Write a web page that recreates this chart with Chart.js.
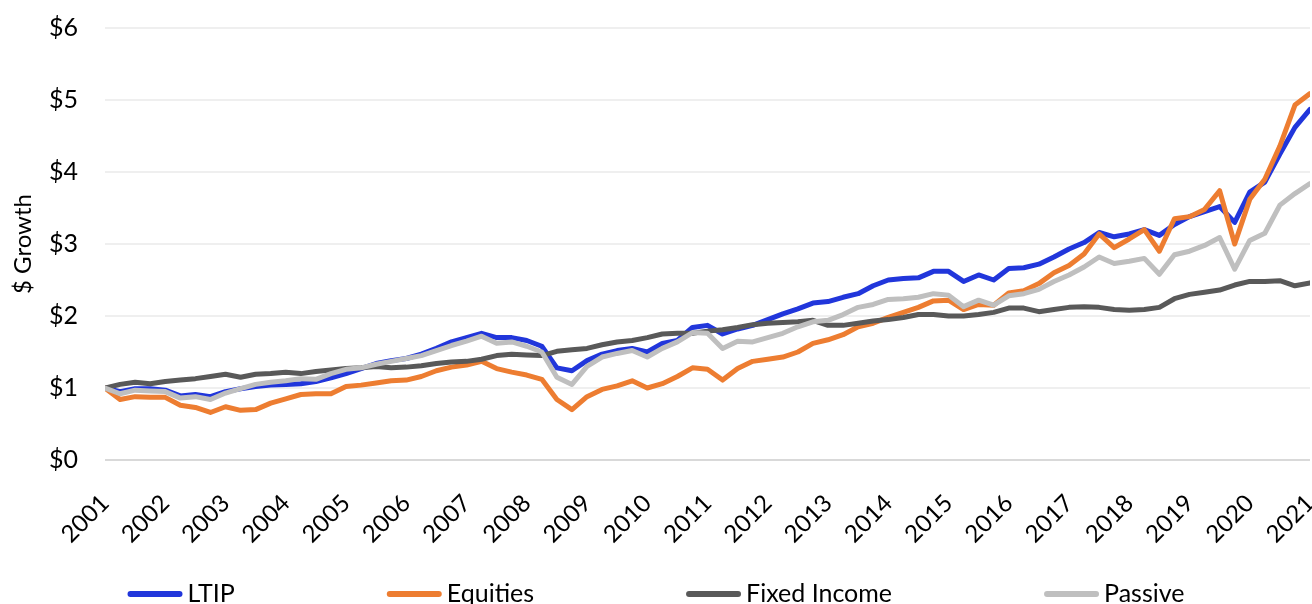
<!DOCTYPE html>
<html>
<head>
<meta charset="utf-8">
<script src="https://cdn.jsdelivr.net/npm/chart.js@4"></script>
<style>
  html, body { margin: 0; padding: 0; background: #fff; overflow: hidden; }
  #wrap { position: relative; width: 1312px; height: 604px; }
</style>
</head>
<body>
<div id="wrap"><canvas id="growthChart"></canvas></div>
<script>
// ===== DATA (quarterly points) =====
const years = [
  2001, 2001.25, 2001.5, 2001.75,
  2002, 2002.25, 2002.5, 2002.75,
  2003, 2003.25, 2003.5, 2003.75,
  2004, 2004.25, 2004.5, 2004.75,
  2005, 2005.25, 2005.5, 2005.75,
  2006, 2006.25, 2006.5, 2006.75,
  2007, 2007.25, 2007.5, 2007.75,
  2008, 2008.25, 2008.5, 2008.75,
  2009, 2009.25, 2009.5, 2009.75,
  2010, 2010.25, 2010.5, 2010.75,
  2011, 2011.25, 2011.5, 2011.75,
  2012, 2012.25, 2012.5, 2012.75,
  2013, 2013.25, 2013.5, 2013.75,
  2014, 2014.25, 2014.5, 2014.75,
  2015, 2015.25, 2015.5, 2015.75,
  2016, 2016.25, 2016.5, 2016.75,
  2017, 2017.25, 2017.5, 2017.75,
  2018, 2018.25, 2018.5, 2018.75,
  2019, 2019.25, 2019.5, 2019.75,
  2020, 2020.25, 2020.5, 2020.75,
  2021
];

const ltip = [
  1.00, 0.95, 0.99, 0.99,
  0.97, 0.89, 0.91, 0.88,
  0.95, 0.99, 1.02, 1.04,
  1.05, 1.06, 1.09, 1.14,
  1.20, 1.27, 1.34, 1.38,
  1.41, 1.47, 1.55, 1.64,
  1.70, 1.76, 1.70, 1.70,
  1.66, 1.58, 1.28, 1.24,
  1.38, 1.47, 1.52, 1.55,
  1.50, 1.62, 1.66, 1.84,
  1.87, 1.75, 1.82, 1.87,
  1.95, 2.03, 2.10, 2.18,
  2.20, 2.26, 2.31, 2.42,
  2.50, 2.52, 2.53, 2.62,
  2.62, 2.48, 2.57, 2.50,
  2.66, 2.67, 2.72, 2.82,
  2.93, 3.02, 3.16, 3.10,
  3.14, 3.20, 3.12, 3.27,
  3.38, 3.45, 3.52, 3.30,
  3.72, 3.86, 4.25, 4.62,
  4.87
];

const equities = [
  1.00, 0.84, 0.88, 0.87,
  0.87, 0.76, 0.73, 0.66,
  0.74, 0.69, 0.70, 0.79,
  0.85, 0.91, 0.92, 0.92,
  1.02, 1.04, 1.07, 1.10,
  1.11, 1.16, 1.24, 1.29,
  1.32, 1.37, 1.27, 1.22,
  1.18, 1.12, 0.84, 0.70,
  0.88, 0.98, 1.03, 1.10,
  1.00, 1.06, 1.16, 1.28,
  1.26, 1.11, 1.27, 1.37,
  1.40, 1.43, 1.50, 1.62,
  1.67, 1.74, 1.85, 1.90,
  1.98, 2.05, 2.12, 2.21,
  2.22, 2.09, 2.16, 2.15,
  2.32, 2.35, 2.45, 2.60,
  2.70, 2.86, 3.14, 2.95,
  3.07, 3.20, 2.90, 3.35,
  3.38, 3.48, 3.74, 3.00,
  3.62, 3.90, 4.36, 4.93,
  5.09
];

const fixedIncome = [
  1.00, 1.05, 1.08, 1.06,
  1.09, 1.11, 1.13, 1.16,
  1.19, 1.15, 1.19, 1.20,
  1.22, 1.20, 1.23, 1.25,
  1.27, 1.28, 1.30, 1.28,
  1.29, 1.31, 1.34, 1.36,
  1.37, 1.40, 1.45, 1.47,
  1.46, 1.45, 1.51, 1.53,
  1.55, 1.60, 1.64, 1.66,
  1.70, 1.75, 1.76, 1.76,
  1.79, 1.81, 1.84, 1.88,
  1.90, 1.91, 1.92, 1.94,
  1.87, 1.87, 1.90, 1.93,
  1.95, 1.98, 2.02, 2.02,
  2.00, 2.00, 2.02, 2.05,
  2.11, 2.11, 2.06, 2.09,
  2.12, 2.13, 2.12, 2.09,
  2.08, 2.09, 2.12, 2.24,
  2.30, 2.33, 2.36, 2.43,
  2.48, 2.48, 2.49, 2.42,
  2.46
];

const passive = [
  1.00, 0.92, 0.97, 0.96,
  0.95, 0.86, 0.88, 0.84,
  0.93, 0.99, 1.05, 1.08,
  1.10, 1.13, 1.12, 1.20,
  1.26, 1.28, 1.33, 1.37,
  1.41, 1.45, 1.52, 1.59,
  1.65, 1.72, 1.62, 1.64,
  1.58, 1.50, 1.15, 1.05,
  1.30, 1.43, 1.48, 1.52,
  1.43, 1.55, 1.64, 1.77,
  1.76, 1.55, 1.65, 1.64,
  1.70, 1.76, 1.85, 1.92,
  1.94, 2.02, 2.12, 2.16,
  2.23, 2.24, 2.26, 2.31,
  2.29, 2.13, 2.22, 2.15,
  2.28, 2.31, 2.37, 2.48,
  2.57, 2.68, 2.82, 2.73,
  2.76, 2.80, 2.58, 2.85,
  2.90, 2.98, 3.09, 2.65,
  3.05, 3.15, 3.54, 3.70,
  3.84
];

const seriesNames = ["LTIP", "Equities", "Fixed Income", "Passive"];
const seriesColors = ["#2136DB", "#ED7D31", "#595959", "#BFBFBF"];
const yTicks = [0, 1, 2, 3, 4, 5, 6];

const FONT = "Lato, 'Open Sans', sans-serif";

function toPoints(values) {
  return years.map((t, i) => ({ x: t, y: values[i] }));
}

// ===== CUSTOM LEGEND (spaced like the original) =====
const spacedLegend = {
  id: "spacedLegend",
  afterDraw(chart) {
    const ctx = chart.ctx;
    const lineLen = 55, textGap = 5, itemGap = 152, y = 594;
    ctx.save();
    ctx.font = "25px " + FONT;
    const widths = seriesNames.map((n) => ctx.measureText(n).width);
    let total = 0;
    widths.forEach((w, i) => {
      total += lineLen + textGap + w + (i < widths.length - 1 ? itemGap : 0);
    });
    let x = (chart.width - total) / 2;
    seriesNames.forEach((name, i) => {
      ctx.strokeStyle = seriesColors[i];
      ctx.lineWidth = 6;
      ctx.lineCap = "round";
      ctx.beginPath();
      ctx.moveTo(x + 3, y);
      ctx.lineTo(x + lineLen - 3, y);
      ctx.stroke();
      ctx.fillStyle = "#000";
      ctx.textAlign = "left";
      ctx.textBaseline = "middle";
      ctx.fillText(name, x + lineLen + textGap, y);
      x += lineLen + textGap + widths[i] + itemGap;
    });
    ctx.restore();
  },
};

// ===== CHART =====
window.addEventListener("load", () => {
  const ctx = document.getElementById("growthChart").getContext("2d");
  const allSeries = [ltip, equities, fixedIncome, passive];

  new Chart(ctx, {
    type: "line",
    data: {
      datasets: allSeries.map((vals, i) => ({
        label: seriesNames[i],
        data: toPoints(vals),
        borderColor: seriesColors[i],
        backgroundColor: seriesColors[i],
        borderWidth: 5,
        pointRadius: 0,
        tension: 0,
        fill: false,
        borderJoinStyle: "round",
        borderCapStyle: "round",
        order: allSeries.length - i, // later series drawn on top
      })),
    },
    options: {
      responsive: true,
      maintainAspectRatio: false,
      animation: false,
      layout: { padding: { top: 28, right: 2, bottom: 60, left: 0 } },
      scales: {
        x: {
          type: "linear",
          min: 2001,
          max: 2021,
          afterFit: (scale) => {
            scale.height = 84;
            scale.paddingLeft = 0;
            scale.paddingRight = 0;
          },
          ticks: {
            stepSize: 1,
            autoSkip: false,
            minRotation: 45,
            maxRotation: 45,
            padding: 21,
            color: "#000",
            font: { family: FONT, size: 24 },
            callback: (v) => String(v),
          },
          grid: { display: false },
          border: { display: false },
        },
        y: {
          min: 0,
          max: 6,
          afterFit: (scale) => {
            scale.width = 105;
            scale.paddingTop = 0;
            scale.paddingBottom = 0;
          },
          afterBuildTicks: (scale) => {
            scale.ticks = yTicks.map((v) => ({ value: v }));
          },
          ticks: {
            padding: 27,
            color: "#000",
            font: { family: FONT, size: 25 },
            callback: (v) => "$" + v,
          },
          grid: {
            drawTicks: false,
            lineWidth: 2,
            color: (c) => (c.tick && c.tick.value === 0 ? "#d9d9d9" : "#efefef"),
          },
          border: { display: false },
          title: {
            display: true,
            text: "$ Growth",
            color: "#000",
            font: { family: FONT, size: 24 },
            padding: { top: 9, bottom: 0 },
          },
        },
      },
      plugins: {
        legend: { display: false },
        tooltip: { enabled: false },
      },
    },
    plugins: [spacedLegend],
  });
});
</script>
</body>
</html>
